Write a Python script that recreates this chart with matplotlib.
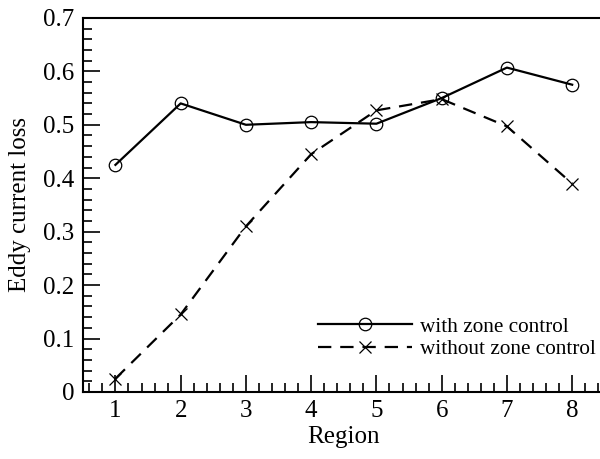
import numpy as np
import matplotlib
matplotlib.use('Agg')
import matplotlib.pyplot as plt
from matplotlib.ticker import MultipleLocator

plt.rcParams['font.family'] = ['Liberation Serif', 'DejaVu Serif']

regions = [1, 2, 3, 4, 5, 6, 7, 8]
with_zone = [0.425, 0.540, 0.500, 0.505, 0.502, 0.550, 0.607, 0.575]
without_zone = [0.025, 0.145, 0.310, 0.445, 0.527, 0.548, 0.497, 0.390]
y_ticks = [0, 0.1, 0.2, 0.3, 0.4, 0.5, 0.6, 0.7]
y_labels = ['0', '0.1', '0.2', '0.3', '0.4', '0.5', '0.6', '0.7']

fig = plt.figure(figsize=(6, 4.59), dpi=100)
ax = fig.add_axes([0.138, 0.146, 0.87, 0.815])

ax.plot(regions, with_zone, color='black', lw=1.6, marker='o', ms=9,
        mfc='none', mec='black', mew=0.9, label='with zone control')
ax.plot(regions, without_zone, color='black', lw=1.6, ls=(0, (6, 4)),
        marker='x', ms=9, mew=0.9, label='without zone control')

ax.set_xlim(0.5, 8.5)
ax.set_ylim(0, 0.7)
ax.set_xticks(regions)
ax.set_yticks(y_ticks)
ax.set_yticklabels(y_labels)
ax.xaxis.set_minor_locator(MultipleLocator(0.2))
ax.yaxis.set_minor_locator(MultipleLocator(0.02))
ax.tick_params(which='both', direction='in', top=False, right=False,
               labelsize=18, width=1.2)
ax.tick_params(which='major', length=12, pad=6)
ax.tick_params(which='minor', length=6.5)
for s in ax.spines.values():
    s.set_linewidth(1.5)

ax.set_xlabel('Region', fontsize=18, labelpad=3)
ax.set_ylabel('Eddy current loss', fontsize=18, labelpad=9)

ax.legend(loc='lower right', bbox_to_anchor=(1.0, 0.065), frameon=False,
          fontsize=15.3, handlelength=4.4, handletextpad=0.4, labelspacing=0.12,
          borderaxespad=0.0)

fig.savefig('out.png', dpi=100)
